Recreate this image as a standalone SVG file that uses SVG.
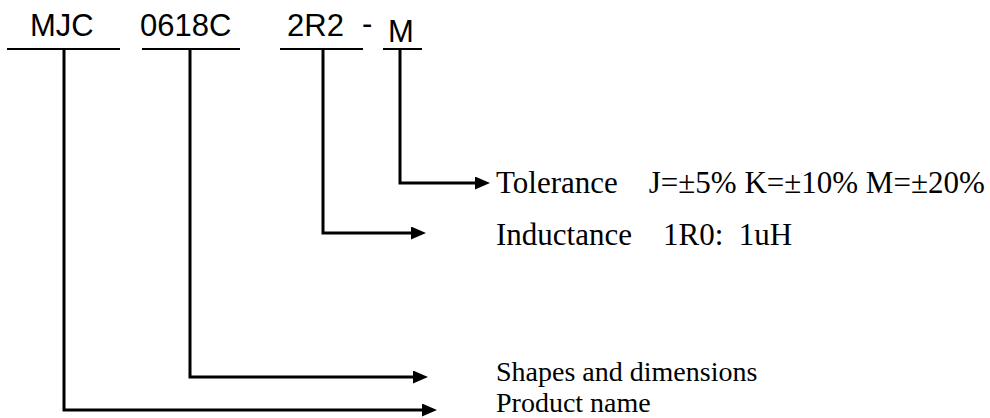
<svg xmlns="http://www.w3.org/2000/svg" width="990" height="418" viewBox="0 0 990 418">
<style>
.code{font-family:"Liberation Sans",Arial,sans-serif;font-size:31px;fill:#000}
.lbl{font-family:"Liberation Serif","Times New Roman",serif;font-size:31px;fill:#000}
.lbl2{font-family:"Liberation Serif","Times New Roman",serif;font-size:28px;fill:#000}
.ul{stroke:#000;stroke-width:2;fill:none}
.con{stroke:#000;stroke-width:3;fill:none;stroke-linejoin:miter}
</style>
<defs>
<marker id="ah" markerUnits="userSpaceOnUse" markerWidth="15" markerHeight="13" viewBox="0 0 15 13" refX="1" refY="6.5" orient="auto">
<path d="M0,0 L15,6.5 L0,13 z" fill="#000"/>
</marker>
</defs>
<g id="code-mjc">
<text class="code" x="30" y="36">MJC</text>
<line class="ul" x1="7" y1="49" x2="120" y2="49"/>
</g>
<g id="code-0618c">
<text class="code" x="140" y="36">0618C</text>
<line class="ul" x1="142" y1="49" x2="240" y2="49"/>
</g>
<g id="code-2r2">
<text class="code" x="287" y="36">2R2</text>
<line class="ul" x1="280" y1="49" x2="363" y2="49"/>
</g>
<g id="dash"><text class="code" x="362" y="34">-</text></g>
<g id="code-m">
<text class="code" x="388" y="42">M</text>
<line class="ul" x1="383" y1="49" x2="422" y2="49"/>
</g>
<g id="connectors">
<path class="con" d="M400,49 V183 H476" marker-end="url(#ah)"/>
<path class="con" d="M323,49 V233 H412" marker-end="url(#ah)"/>
<path class="con" d="M190,49 V377 H414" marker-end="url(#ah)"/>
<path class="con" d="M64,49 V410 H423" marker-end="url(#ah)"/>
</g>
<g id="label-tolerance"><text class="lbl" x="496" y="193" xml:space="preserve">Tolerance    J=±5% K=±10% M=±20%</text></g>
<g id="label-inductance"><text class="lbl" x="496" y="245" xml:space="preserve">Inductance    1R0:  1uH</text></g>
<g id="label-shapes"><text class="lbl2" x="496" y="381">Shapes and dimensions</text></g>
<g id="label-product"><text class="lbl2" x="496" y="412">Product name</text></g>
</svg>
